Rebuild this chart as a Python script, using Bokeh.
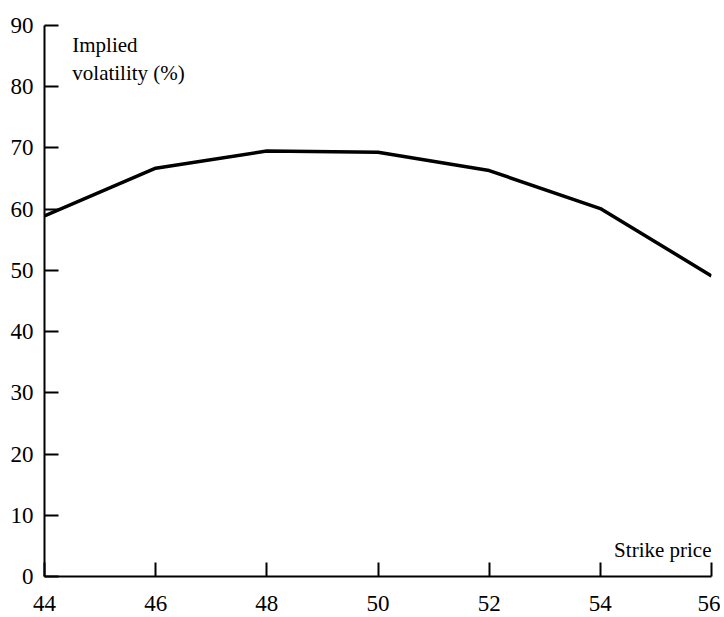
from bokeh.plotting import figure
from bokeh.models import Range1d, FixedTicker, Label
from bokeh.embed import file_html
from bokeh.resources import INLINE

strike = [44, 46, 48, 50, 52, 54, 56]
vol = [58.9, 66.7, 69.5, 69.3, 66.3, 60.1, 49.1]
x_ticks = [44, 46, 48, 50, 52, 54, 56]
y_ticks = [0, 10, 20, 30, 40, 50, 60, 70, 80, 90]

FONT = "Liberation Serif"

p = figure(width=720, height=617, output_backend="svg", toolbar_location=None,
           x_range=Range1d(44, 56), y_range=Range1d(0, 90),
           min_border_left=44, min_border_right=9, min_border_top=25, min_border_bottom=41)
p.outline_line_color = None
p.xgrid.visible = False
p.ygrid.visible = False

p.line(strike, vol, line_color="black", line_width=3.5)

for ax in (p.xaxis[0], p.yaxis[0]):
    ax.axis_line_color = "black"
    ax.axis_line_width = 2
    ax.major_tick_line_color = "black"
    ax.major_tick_line_width = 2
    ax.major_tick_in = 14
    ax.major_tick_out = 0
    ax.minor_tick_line_color = None
    ax.major_label_text_font = FONT
    ax.major_label_text_font_size = "23px"
    ax.major_label_text_color = "black"

p.xaxis.ticker = FixedTicker(ticks=x_ticks)
p.yaxis.ticker = FixedTicker(ticks=y_ticks)
p.xaxis.major_label_standoff = 19
p.yaxis.major_label_standoff = 11

for txt, yy in (("Implied", 86.8), ("volatility (%)", 82.2)):
    p.add_layout(Label(x=44.5, y=yy, text=txt, text_font=FONT, text_font_size="21px",
                       text_color="black", text_baseline="alphabetic"))
p.add_layout(Label(x=56, y=4.25, x_offset=0, text="Strike price", text_font=FONT,
                   text_font_size="21px", text_color="black", text_align="right",
                   text_baseline="alphabetic"))

open("out.html", "w").write(file_html(p, INLINE))
